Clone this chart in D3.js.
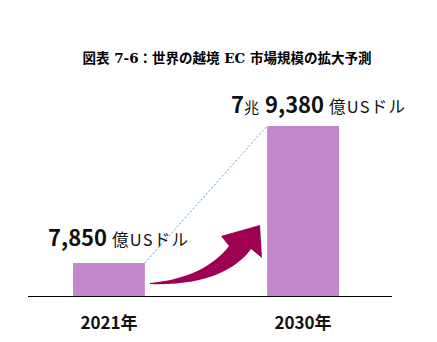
<!DOCTYPE html>
<html>
<head>
<meta charset="utf-8">
<script src="https://cdn.jsdelivr.net/npm/d3@7"></script>
<style>
body { margin: 0; background: #fff; }
svg { display: block; }
</style>
</head>
<body>
<svg id="chart"></svg>
<script>
var width = 437
var height = 342

var years = ['2021年', '2030年']
var values = [7850, 79380]
var labelMain = ['7,850', '9,380']
var labelPre = ['', '7']
var title = '図表 7-6：世界の越境 EC 市場規模の拡大予測'

var svg = d3.select('#chart').attr('width', width).attr('height', height)

// the original is not drawn to scale, so the domain starts below zero
var x = d3.scaleBand().domain(years).range([28, 384]).paddingInner(0.63).paddingOuter(0.232)
var y = d3.scaleLinear().domain([-9400, 79380]).range([296, 126])
var base = y(y.domain()[0])

svg.append('text')
	.attr('x', 227).attr('y', 63)
	.attr('text-anchor', 'middle')
	.attr('font-family', 'DejaVu Serif, Noto Sans CJK JP, serif')
	.attr('font-weight', 'bold')
	.attr('font-size', 13.5)
	.attr('fill', '#000')
	.text(title)

// dotted connector between bar tops
svg.append('line')
	.attr('x1', x(years[0]) + x.bandwidth()).attr('y1', y(values[0]))
	.attr('x2', x(years[1])).attr('y2', y(values[1]))
	.attr('stroke', '#5b9bd5').attr('stroke-width', 1)
	.attr('stroke-dasharray', '2,2')

svg.selectAll('rect.bar').data(values).enter().append('rect')
	.attr('class', 'bar')
	.attr('x', function(d, i) {return x(years[i])})
	.attr('y', function(d) {return y(d)})
	.attr('width', x.bandwidth())
	.attr('height', function(d) {return base - y(d)})
	.attr('fill', '#c387cb')

// baseline
svg.append('line')
	.attr('x1', 28).attr('x2', 392)
	.attr('y1', 296.5).attr('y2', 296.5)
	.attr('stroke', '#000').attr('stroke-width', 1.2)

// growth arrow
svg.append('path')
	.attr('d', 'M150,283 C186,280 214,266 229,246 L221,236 L260,225 L262,258 L251,249 C236,270 204,286 150,284 Z')
	.attr('fill', '#9e0052')

var font = 'Noto Sans CJK JP, sans-serif'

// value labels
var lbl = svg.selectAll('text.val').data(values).enter().append('text')
	.attr('class', 'val')
	.attr('x', function(d, i) {return i == 0 ? 48 : 231})
	.attr('y', function(d, i) {return i == 0 ? 246 : 113})
	.attr('font-family', font)
	.attr('fill', '#111')

lbl.append('tspan')
	.attr('font-weight', 'bold').attr('font-size', 22)
	.text(function(d, i) {return labelPre[i]})
lbl.append('tspan')
	.attr('font-size', 15)
	.text(function(d, i) {return i == 1 ? '兆' : ''})
lbl.append('tspan')
	.attr('font-weight', 'bold').attr('font-size', 22)
	.attr('dx', function(d, i) {return i == 1 ? 6 : 0})
	.text(function(d, i) {return labelMain[i]})
lbl.append('tspan')
	.attr('font-size', 16.5).attr('dx', 5)
	.attr('letter-spacing', 1.2)
	.text('億USドル')

// category labels
svg.selectAll('text.cat').data(years).enter().append('text')
	.attr('class', 'cat')
	.attr('x', function(d) {return x(d) + x.bandwidth() / 2})
	.attr('y', 329)
	.attr('text-anchor', 'middle')
	.attr('font-family', font)
	.attr('font-weight', 'bold')
	.attr('font-size', 17)
	.attr('fill', '#111')
	.text(function(d) {return d})
</script>
</body>
</html>
